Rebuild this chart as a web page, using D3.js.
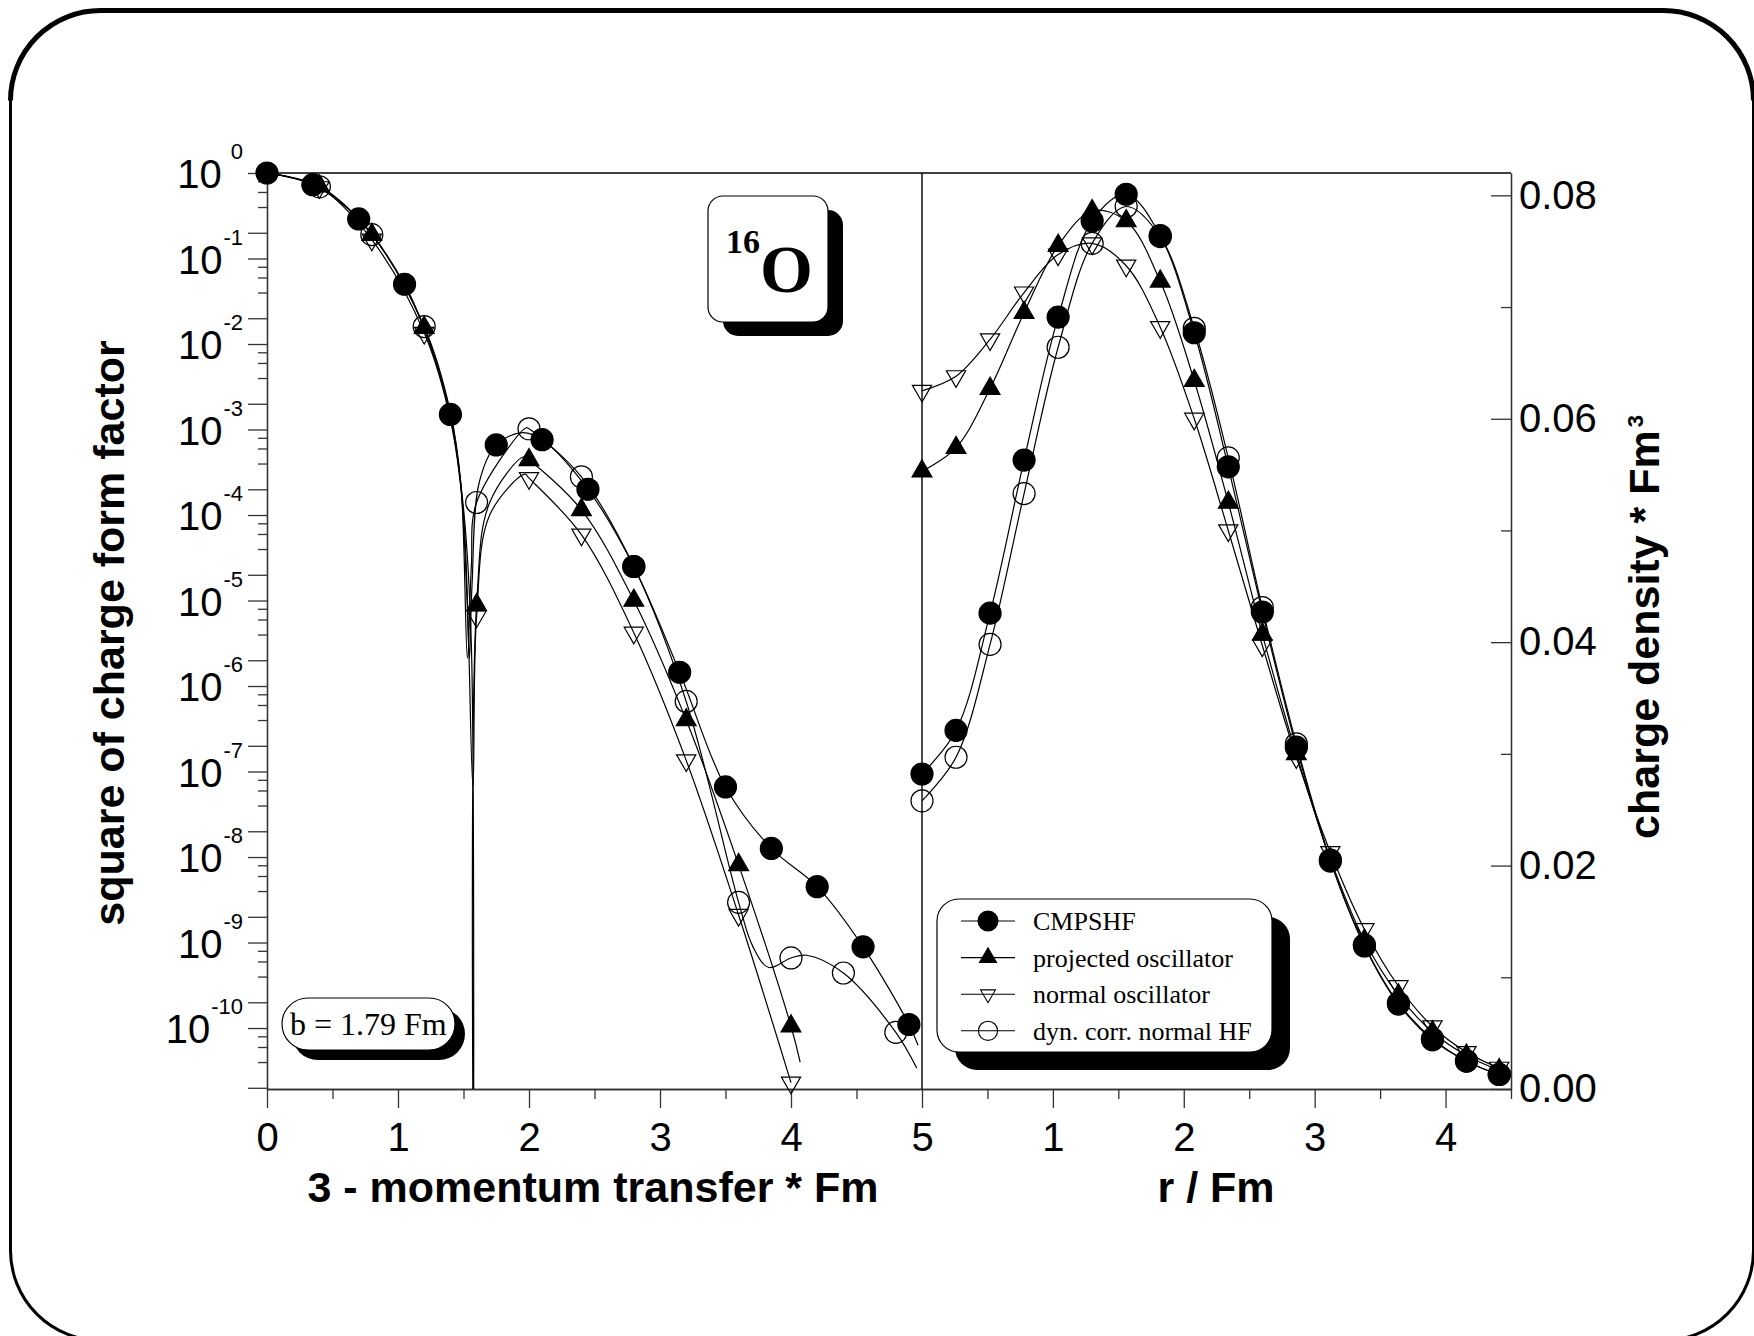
<!DOCTYPE html>
<html>
<head>
<meta charset="utf-8">
<script src="https://d3js.org/d3.v7.min.js"></script>
<style>
  body { margin: 0; background: #fff; }
  svg { display: block; }
  .sans { font-family: "Liberation Sans", Arial, Helvetica, sans-serif; }
  .serif { font-family: "Liberation Serif", "Times New Roman", serif; }
</style>
</head>
<body>
<script>
// ---------- data ----------
// left panel: square of charge form factor vs 3-momentum transfer (1/Fm)
var qCmpshf  = [0, 0.35, 0.70, 1.05, 1.40, 1.75, 2.10, 2.45, 2.80, 3.15, 3.50, 3.85, 4.20, 4.55, 4.90];
var ffCmpshf = [1.0, 0.73, 0.29, 5.0e-2, 1.5e-3, 6.6e-4, 7.6e-4, 2.0e-4, 2.5e-5, 1.45e-6, 6.6e-8, 1.26e-8, 4.5e-9, 8.9e-10, 1.1e-10];

var qOsc   = [0.4, 0.8, 1.2, 1.6, 2.0, 2.4, 2.8, 3.2, 3.6, 4.0];
var ffProj = [0.70, 0.19, 1.55e-2, 8.9e-6, 4.4e-4, 1.15e-4, 1.0e-5, 4.0e-7, 8.1e-9, 1.05e-10];
var ffNorm = [0.68, 0.166, 1.35e-2, 6.5e-6, 2.7e-4, 5.9e-5, 4.2e-6, 1.35e-7, 2.1e-9, 2.3e-11];

var qDyn  = [0.4, 0.8, 1.2, 1.6, 2.0, 2.4, 2.8, 3.2, 3.6, 4.0, 4.4, 4.8];
var ffDyn = [0.69, 0.19, 1.6e-2, 1.4e-4, 1.02e-3, 2.8e-4, 2.5e-5, 6.6e-7, 2.95e-9, 6.6e-10, 4.4e-10, 8.9e-11];

// extra points (diffraction minimum, maxima, ends)
var cmpshfCurve = [[1.20, 1.5e-2], [1.48, 2.2e-4], [1.525, 1.2e-5], [1.545, 2.1e-6], [1.565, 1.5e-5], [1.62, 2.4e-4], [1.95, 9.2e-4], [4.97, 6.3e-11]];
var projCurve   = [[0, 1.0], [1.40, 1.4e-3], [1.50, 1.2e-4], [1.56, 3.0e-6], [1.578, 1e-13], [1.70, 1.4e-4], [1.96, 4.8e-4], [4.07, 4.0e-11]];
var normCurve   = [[0, 1.0], [1.40, 1.3e-3], [1.50, 1.0e-4], [1.572, 6.6e-8], [1.70, 1.0e-4], [1.97, 3.0e-4]];
var dynCurve    = [[0, 1.0], [1.40, 1.6e-3], [1.48, 2.3e-4], [1.53, 2.1e-6], [1.56, 2.5e-5], [1.98, 1.05e-3], [3.71, 8.9e-10], [3.83, 5.1e-10], [4.12, 7.1e-10], [4.96, 3.4e-11]];

// right panel: charge density vs r (Fm)
var rGrid     = [0, 0.26, 0.52, 0.78, 1.04, 1.30, 1.56, 1.82, 2.08, 2.34, 2.60, 2.86, 3.12, 3.38, 3.64, 3.90, 4.16, 4.41];
var rhoCmpshf = [0.0282, 0.0321, 0.0426, 0.0563, 0.0691, 0.0777, 0.0801, 0.0764, 0.0677, 0.0557, 0.0427, 0.0306, 0.0204, 0.0128, 0.0076, 0.0044, 0.0025, 0.0013];
var rhoProj   = [0.0553, 0.0574, 0.0627, 0.0695, 0.0755, 0.0786, 0.0777, 0.0723, 0.0634, 0.0525, 0.0407, 0.0300, 0.0206, 0.0133, 0.0084, 0.0051, 0.0030, 0.0017];
var rhoNorm   = [0.0625, 0.0638, 0.0671, 0.0713, 0.0747, 0.0757, 0.0737, 0.0682, 0.0600, 0.0500, 0.0397, 0.0297, 0.0212, 0.0143, 0.0092, 0.0056, 0.0033, 0.0019];
var rhoDyn    = [0.0258, 0.0297, 0.0398, 0.0533, 0.0664, 0.0757, 0.0790, 0.0763, 0.0681, 0.0565, 0.0431, 0.0309, 0.0205, 0.0129, 0.0077, 0.0045, 0.0025, 0.0013];
var rEdge = 4.5;
var rhoEdge = { cmpshf: 0.0011, proj: 0.0014, norm: 0.0016, dyn: 0.0011 };

var seriesNames = ["CMPSHF", "projected oscillator", "normal oscillator", "dyn. corr. normal HF"];
var qTicks = [0, 1, 2, 3, 4, 5];
var rTicks = [1, 2, 3, 4];
var rhoTicks = [0, 0.02, 0.04, 0.06, 0.08];
var decades = [0, -1, -2, -3, -4, -5, -6, -7, -8, -9, -10];

// ---------- layout ----------
var W = 1754, H = 1336;
var plotTop = 173, plotBottom = 1089;
var svg = d3.select("body").append("svg").attr("width", W).attr("height", H);

var xQ = d3.scaleLinear().domain([0, 5]).range([267, 922]);
var xR = d3.scaleLinear().domain([0, 4.5]).range([922, 1511]);
var yF = d3.scaleLog().domain([Math.pow(10, -10.713), 1]).range([plotBottom, plotTop]);
var yRho = d3.scaleLinear().domain([0, 0.082]).range([plotBottom, plotTop]);

// outer rounded frame
function roundRect(x, y, w, h, r) {
  var p = d3.path();
  p.moveTo(x + r, y);
  p.lineTo(x + w - r, y);
  p.arcTo(x + w, y, x + w, y + r, r);
  p.lineTo(x + w, y + h - r);
  p.arcTo(x + w, y + h, x + w - r, y + h, r);
  p.lineTo(x + r, y + h);
  p.arcTo(x, y + h, x, y + h - r, r);
  p.lineTo(x, y + r);
  p.arcTo(x, y, x + r, y, r);
  p.closePath();
  return p.toString();
}
svg.append("path").attr("d", roundRect(10.5, 10.5, 1743, 1330, 90))
  .attr("fill", "none").attr("stroke", "#000").attr("stroke-width", 3);
var topEdge = d3.path();
topEdge.moveTo(10.5, 100.5);
topEdge.arcTo(10.5, 10.5, 100.5, 10.5, 90);
topEdge.lineTo(1663.5, 10.5);
topEdge.arcTo(1753.5, 10.5, 1753.5, 100.5, 90);
svg.append("path").attr("d", topEdge.toString())
  .attr("fill", "none").attr("stroke", "#000").attr("stroke-width", 5);

// clip paths
var defs = svg.append("defs");
defs.append("clipPath").attr("id", "clipL").append("rect")
  .attr("x", 267).attr("y", plotTop).attr("width", 922 - 267).attr("height", plotBottom - plotTop);
defs.append("clipPath").attr("id", "clipR").append("rect")
  .attr("x", 922).attr("y", plotTop).attr("width", 1511 - 922).attr("height", plotBottom - plotTop);

// ---------- axes ----------
var axisColor = "#333";
function styleAxis(g) {
  g.attr("color", axisColor);
  g.selectAll("line").attr("stroke-width", 1.3);
  g.selectAll("path").attr("stroke-width", 1.3);
}

// bottom, left panel
svg.append("g").attr("transform", "translate(0," + plotBottom + ")")
  .call(d3.axisBottom(xQ).tickValues([0.5, 1.5, 2.5, 3.5, 4.5]).tickSize(10).tickSizeOuter(0).tickFormat(""))
  .call(styleAxis);
svg.append("g").attr("class", "sans").attr("transform", "translate(0," + plotBottom + ")")
  .call(d3.axisBottom(xQ).tickValues(qTicks).tickSize(19).tickSizeOuter(0).tickPadding(15).tickFormat(d3.format("d")))
  .call(styleAxis)
  .call(function (g) { g.selectAll("text").attr("font-size", 40).attr("fill", "#000"); });

// bottom, right panel
svg.append("g").attr("transform", "translate(0," + plotBottom + ")")
  .call(d3.axisBottom(xR).tickValues([0.5, 1.5, 2.5, 3.5, 4.5]).tickSize(10).tickSizeOuter(0).tickFormat(""))
  .call(styleAxis);
svg.append("g").attr("class", "sans").attr("transform", "translate(0," + plotBottom + ")")
  .call(d3.axisBottom(xR).tickValues(rTicks).tickSize(19).tickSizeOuter(0).tickPadding(15).tickFormat(d3.format("d")))
  .call(styleAxis)
  .call(function (g) { g.selectAll("text").attr("font-size", 40).attr("fill", "#000"); });

// left log axis
var minorShort = [], minorLong = [];
for (var e = 0; e >= -11; e--) {
  [4, 6, 8].forEach(function (k) {
    var v = k * Math.pow(10, e - 1);
    if (v >= yF.domain()[0] && v <= 1) minorShort.push(v);
  });
  var v2 = 2 * Math.pow(10, e - 1);
  if (v2 >= yF.domain()[0]) minorLong.push(v2);
}
svg.append("g").attr("transform", "translate(267,0)")
  .call(d3.axisLeft(yF).tickValues(minorShort).tickSize(9).tickSizeOuter(0).tickFormat(""))
  .call(styleAxis);
svg.append("g").attr("transform", "translate(267,0)")
  .call(d3.axisLeft(yF).tickValues(minorLong.concat(decades.map(function (d) { return Math.pow(10, d); })))
    .tickSize(19).tickSizeOuter(0).tickFormat(""))
  .call(styleAxis);

var leftLabels = svg.append("g").attr("class", "sans").attr("fill", "#000");
decades.forEach(function (d) {
  var t = leftLabels.append("text")
    .attr("x", 243).attr("y", yF(Math.pow(10, d)) + 15)
    .attr("text-anchor", "end").attr("font-size", 40);
  t.append("tspan").text("10");
  t.append("tspan").attr("dy", -29).attr("dx", d === 0 ? 9 : 1).attr("font-size", 22).text(String(d));
});

// right linear axis (ticks pointing inward)
svg.append("g").attr("transform", "translate(1511,0)")
  .call(d3.axisRight(yRho).tickValues([0.01, 0.03, 0.05, 0.07]).tickSize(-10).tickSizeOuter(0).tickFormat(""))
  .call(styleAxis);
svg.append("g").attr("class", "sans").attr("transform", "translate(1511,0)")
  .call(d3.axisRight(yRho).tickValues(rhoTicks).tickSize(-20).tickSizeOuter(0).tickPadding(8).tickFormat(d3.format(".2f")))
  .call(styleAxis)
  .call(function (g) { g.selectAll("text").attr("font-size", 40).attr("fill", "#000"); });

// top line and panel separator
svg.append("line").attr("x1", 267).attr("x2", 1511).attr("y1", plotTop).attr("y2", plotTop)
  .attr("stroke", "#000").attr("stroke-width", 1.4);
svg.append("line").attr("x1", 922).attr("x2", 922).attr("y1", plotTop).attr("y2", plotBottom)
  .attr("stroke", "#000").attr("stroke-width", 1.4);

// axis titles
svg.append("text").attr("class", "sans").attr("x", 593).attr("y", 1202)
  .attr("text-anchor", "middle").attr("font-size", 43).attr("font-weight", "bold")
  .text("3 - momentum transfer * Fm");
svg.append("text").attr("class", "sans").attr("x", 1216).attr("y", 1202)
  .attr("text-anchor", "middle").attr("font-size", 43).attr("font-weight", "bold")
  .text("r / Fm");
svg.append("text").attr("class", "sans")
  .attr("transform", "translate(124,633) rotate(-90)")
  .attr("text-anchor", "middle").attr("font-size", 43).attr("font-weight", "bold")
  .text("square of charge form factor");
var rt = svg.append("text").attr("class", "sans")
  .attr("transform", "translate(1659,627) rotate(-90)")
  .attr("text-anchor", "middle").attr("font-size", 43).attr("font-weight", "bold");
rt.append("tspan").text("charge density * Fm");
rt.append("tspan").attr("dy", -16).attr("dx", 3).attr("font-size", 22).text("3");

// ---------- curves ----------
function zip(xs, ys) { return xs.map(function (x, i) { return [x, ys[i]]; }); }
function merged(marks, extra) {
  return marks.concat(extra).sort(function (a, b) { return a[0] - b[0]; });
}
var lineL = d3.line().x(function (d) { return xQ(d[0]); }).y(function (d) { return yF(d[1]); })
  .curve(d3.curveCatmullRom.alpha(0.5));
var lineR = d3.line().x(function (d) { return xR(d[0]); }).y(function (d) { return yRho(d[1]); })
  .curve(d3.curveCatmullRom.alpha(0.5));

var leftSeries = [
  { key: "dyn",    marks: zip(qDyn, ffDyn),       extra: dynCurve },
  { key: "norm",   marks: zip(qOsc, ffNorm),      extra: normCurve },
  { key: "proj",   marks: zip(qOsc, ffProj),      extra: projCurve },
  { key: "cmpshf", marks: zip(qCmpshf, ffCmpshf), extra: cmpshfCurve }
];
var rightSeries = [
  { key: "dyn",    marks: zip(rGrid, rhoDyn) },
  { key: "norm",   marks: zip(rGrid, rhoNorm) },
  { key: "proj",   marks: zip(rGrid, rhoProj) },
  { key: "cmpshf", marks: zip(rGrid, rhoCmpshf) }
];

var gL = svg.append("g").attr("clip-path", "url(#clipL)");
var gR = svg.append("g").attr("clip-path", "url(#clipR)");

leftSeries.forEach(function (s) {
  gL.append("path").attr("d", lineL(merged(s.marks, s.extra)))
    .attr("fill", "none").attr("stroke", "#000").attr("stroke-width", 1.2);
});
rightSeries.forEach(function (s) {
  gR.append("path").attr("d", lineR(s.marks.concat([[rEdge, rhoEdge[s.key]]])))
    .attr("fill", "none").attr("stroke", "#000").attr("stroke-width", 1.2);
});

// ---------- markers ----------
var markerStyle = {
  cmpshf: { type: d3.symbolCircle,   size: 380, fill: "#000", rot: 0 },
  proj:   { type: d3.symbolTriangle, size: 170, fill: "#000", rot: 0 },
  norm:   { type: d3.symbolTriangle, size: 160, fill: "none", rot: 180 },
  dyn:    { type: d3.symbolCircle,   size: 380, fill: "none", rot: 0 }
};
function drawMarks(g, pts, st, xs, ys) {
  g.selectAll(null).data(pts).enter().append("path")
    .attr("d", d3.symbol().type(st.type).size(st.size))
    .attr("transform", function (d) { return "translate(" + xs(d[0]) + "," + ys(d[1]) + ") rotate(" + st.rot + ")"; })
    .attr("fill", st.fill).attr("stroke", "#000").attr("stroke-width", 1.2);
}
var mL = svg.append("g"), mR = svg.append("g");
leftSeries.forEach(function (s) { drawMarks(mL, s.marks, markerStyle[s.key], xQ, yF); });
rightSeries.forEach(function (s) { drawMarks(mR, s.marks, markerStyle[s.key], xR, yRho); });

// ---------- boxes ----------
function shadowBox(x, y, w, h, r, off) {
  svg.append("rect").attr("x", x + off[0]).attr("y", y + off[1]).attr("width", w).attr("height", h)
    .attr("rx", r).attr("fill", "#000");
  svg.append("rect").attr("x", x).attr("y", y).attr("width", w).attr("height", h)
    .attr("rx", r).attr("fill", "#fff").attr("stroke", "#000").attr("stroke-width", 1.2);
}

// nucleus label
shadowBox(708, 196, 120, 126, 15, [15, 14]);
svg.append("text").attr("class", "serif").attr("x", 726).attr("y", 253)
  .attr("font-size", 34).attr("font-weight", "bold").text("16");
svg.append("text").attr("class", "serif").attr("x", 760).attr("y", 292)
  .attr("font-size", 68).attr("font-weight", "bold").text("O");

// oscillator length
shadowBox(282, 998, 173, 52, 26, [10, 10]);
svg.append("text").attr("class", "serif").attr("x", 290).attr("y", 1035)
  .attr("font-size", 32).text("b = 1.79 Fm");

// legend
shadowBox(937, 899, 335, 153, 22, [18, 18]);
var legendKeys = ["cmpshf", "proj", "norm", "dyn"];
var legendScale = { cmpshf: 310, proj: 125, norm: 95, dyn: 290 };
var lg = svg.append("g");
legendKeys.forEach(function (k, i) {
  var cy = 921 + i * 36.6;
  lg.append("line").attr("x1", 961).attr("x2", 1015).attr("y1", cy).attr("y2", cy)
    .attr("stroke", "#000").attr("stroke-width", 1.1);
  var st = markerStyle[k];
  lg.append("path").attr("d", d3.symbol().type(st.type).size(legendScale[k]))
    .attr("transform", "translate(988," + cy + ") rotate(" + st.rot + ")")
    .attr("fill", st.fill).attr("stroke", "#000").attr("stroke-width", 1.1);
  lg.append("text").attr("class", "serif").attr("x", 1033).attr("y", cy + 9)
    .attr("font-size", 26).text(seriesNames[i]);
});
</script>
</body>
</html>
